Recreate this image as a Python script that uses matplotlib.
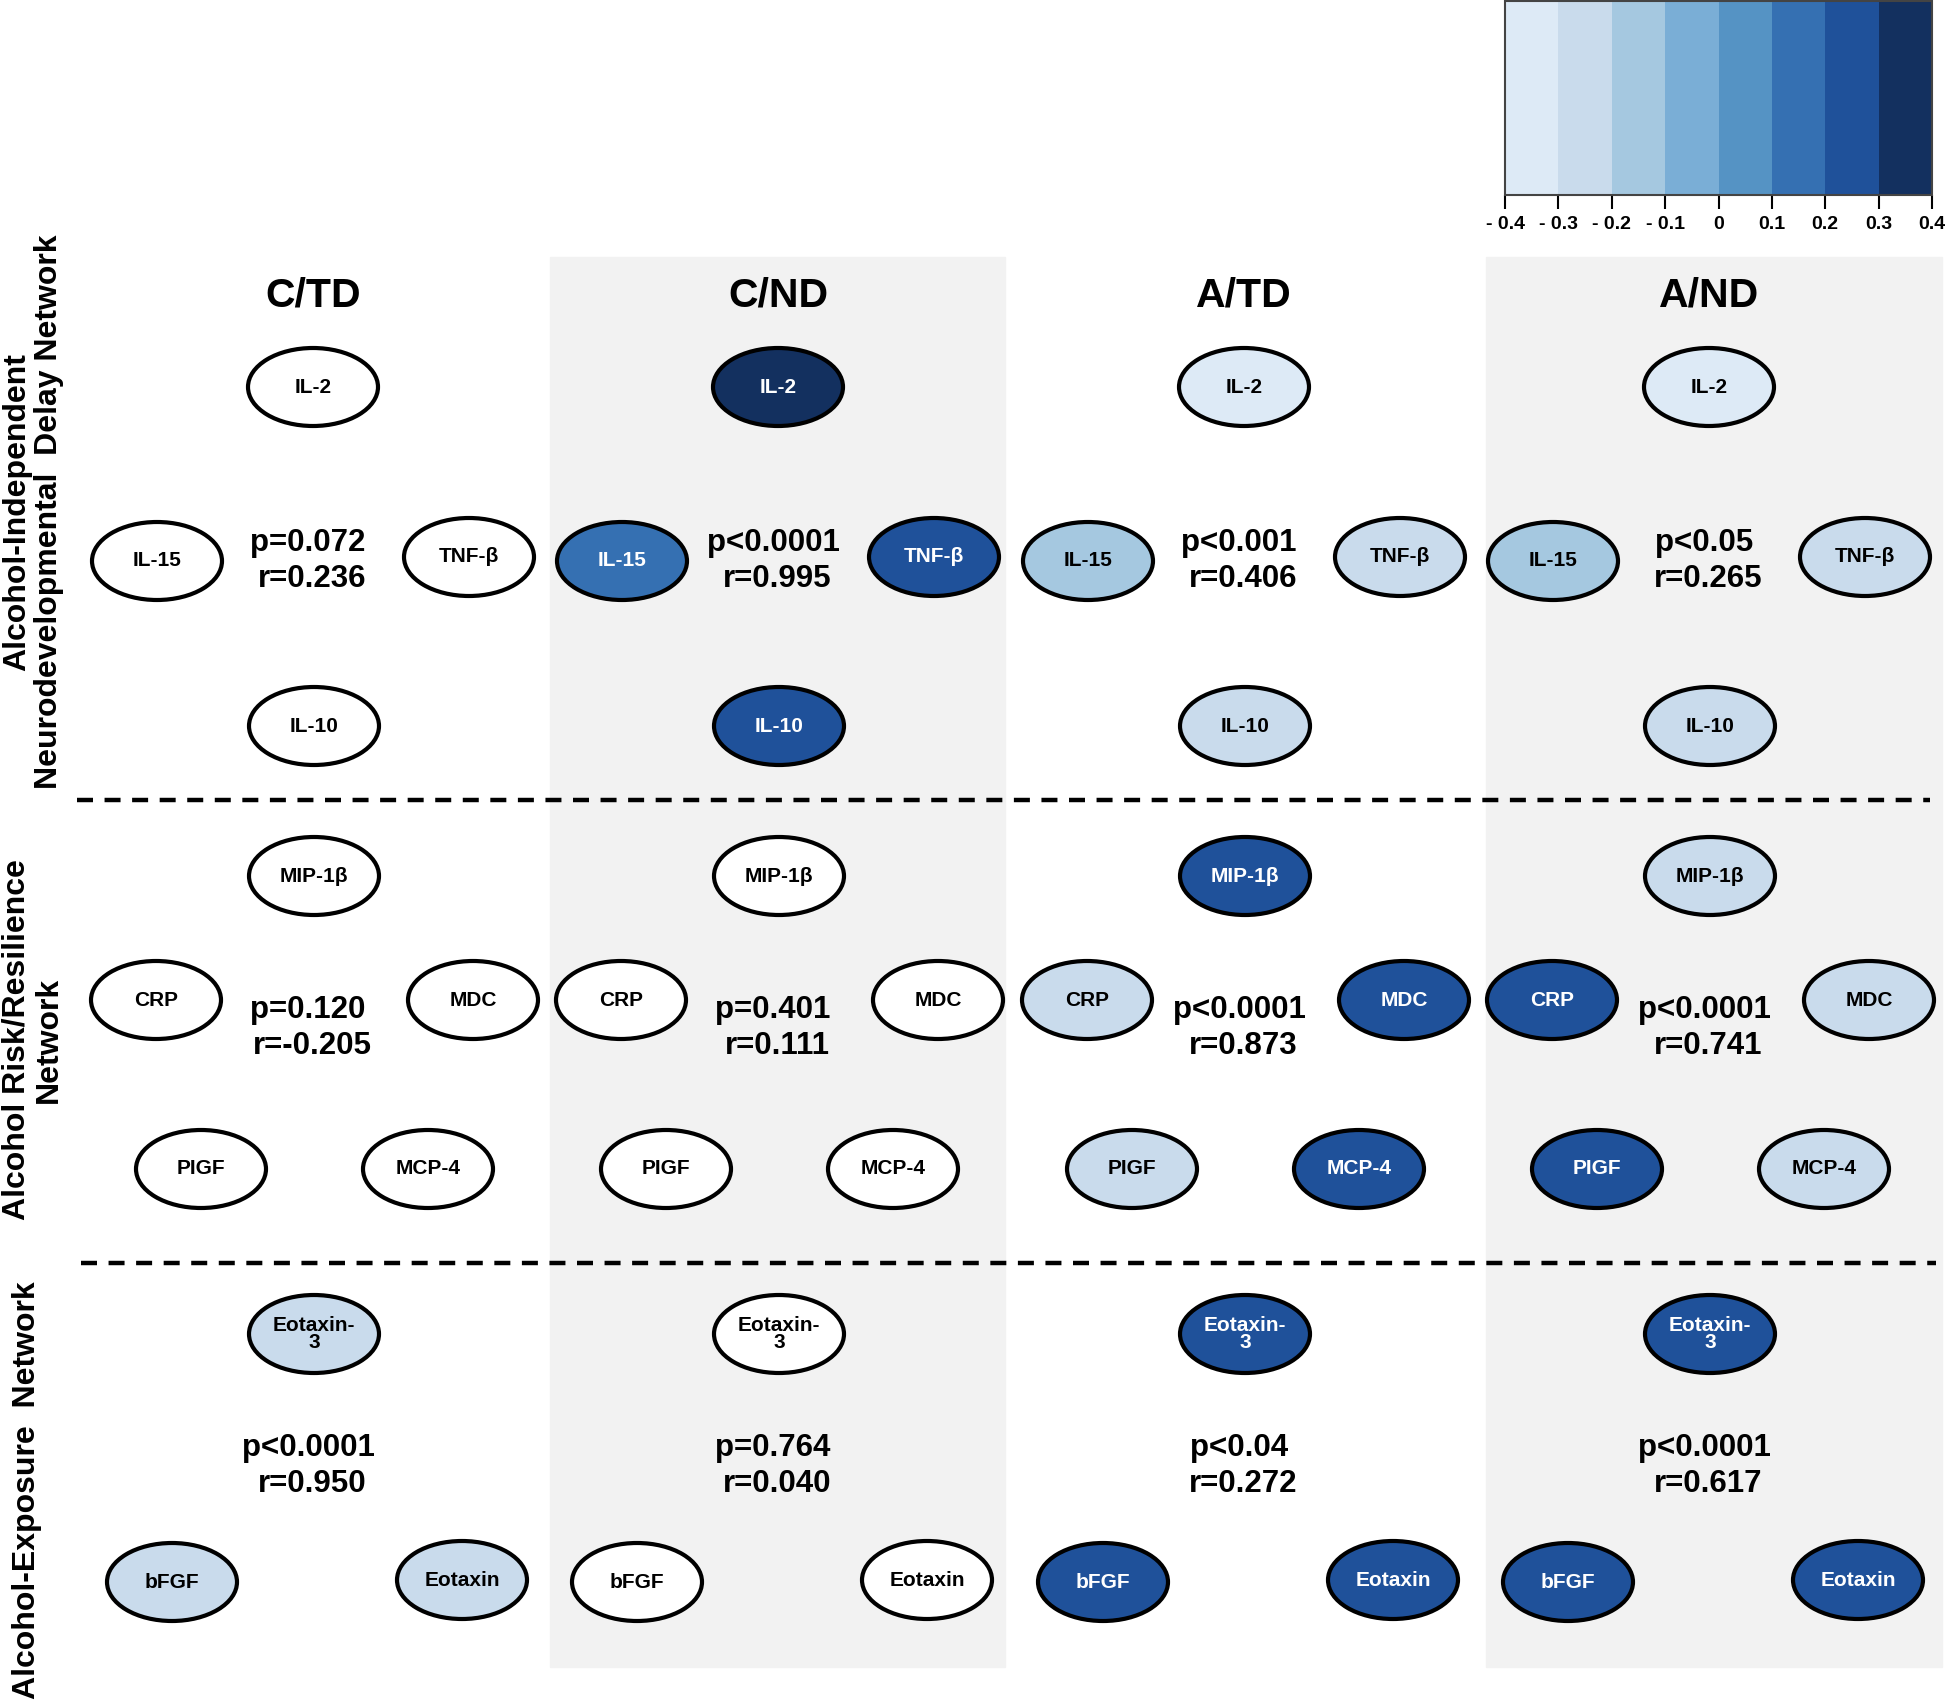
import numpy as np
import matplotlib.pyplot as plt
from matplotlib.patches import Ellipse, Rectangle
from matplotlib.colors import ListedColormap, BoundaryNorm
from matplotlib.cm import ScalarMappable

plt.rcParams['font.family'] = ['Liberation Sans', 'DejaVu Sans']
plt.rcParams['font.weight'] = 'bold'

# ---- data ----
groups = ['C/TD', 'C/ND', 'A/TD', 'A/ND']

net1_nodes = ['IL-2', 'IL-15', 'TNF-β', 'IL-10']
net2_nodes = ['MIP-1β', 'CRP', 'MDC', 'PIGF', 'MCP-4']
net3_nodes = ['Eotaxin-\n3', 'bFGF', 'Eotaxin']

# node shading value on the colour scale (None = not shaded / white)
net1_vals = [[None, None, None, None],
             [0.35, 0.15, 0.25, 0.25],
             [-0.35, -0.15, -0.25, -0.25],
             [-0.35, -0.15, -0.25, -0.25]]
net2_vals = [[None, None, None, None, None],
             [None, None, None, None, None],
             [0.25, -0.25, 0.25, -0.25, 0.25],
             [-0.25, 0.25, -0.25, 0.25, -0.25]]
net3_vals = [[-0.25, -0.25, -0.25],
             [None, None, None],
             [0.25, 0.25, 0.25],
             [0.25, 0.25, 0.25]]

net1_p = ['p=0.072', 'p<0.0001', 'p<0.001', 'p<0.05']
net1_r = ['r=0.236', 'r=0.995', 'r=0.406', 'r=0.265']
net2_p = ['p=0.120', 'p=0.401', 'p<0.0001', 'p<0.0001']
net2_r = ['r=-0.205', 'r=0.111', 'r=0.873', 'r=0.741']
net3_p = ['p<0.0001', 'p=0.764', 'p<0.04', 'p<0.0001']
net3_r = ['r=0.950', 'r=0.040', 'r=0.272', 'r=0.617']

row_labels = ['Alcohol-Independent\nNeurodevelopmental  Delay Network',
              'Alcohol Risk/Resilience\nNetwork',
              'Alcohol-Exposure  Network']

cbar_bounds = [-0.4, -0.3, -0.2, -0.1, 0, 0.1, 0.2, 0.3, 0.4]
cbar_ticklabels = ['- 0.4', '- 0.3', '- 0.2', '- 0.1', '0', '0.1', '0.2', '0.3', '0.4']
cbar_colors = ['#DDEAF6', '#C9DBEC', '#A5C8E0', '#7AAED6',
               '#5593C4', '#3570B2', '#1F519A', '#13305F']

# ---- layout (pixels) ----
W, H = 1946, 1700
col_x = [313, 778, 1244, 1709]
net1_pos = [(0, 387), (-156, 561), (156, 557), (1, 726)]
net2_pos = [(1, 876), (-157, 1000), (160, 1000), (-112, 1169), (115, 1169)]
net3_pos = [(1, 1334), (-141, 1582), (149, 1580)]
stat_y = [(543, 579), (1010, 1046), (1448, 1484)]

cmap = ListedColormap(cbar_colors)
norm = BoundaryNorm(cbar_bounds, cmap.N)

fig = plt.figure(figsize=(W / 100, H / 100), dpi=100)
ax = fig.add_axes([0, 0, 1, 1])
ax.set_xlim(0, W)
ax.set_ylim(H, 0)
ax.axis('off')

# grey background columns
for x0, x1 in [(550, 1005), (1486, 1942)]:
    ax.add_patch(Rectangle((x0, 257), x1 - x0, 1667 - 257, color='#F2F2F2', zorder=0))

# dashed separators
ax.plot([77, 1930], [800, 800], color='black', lw=3.2, dashes=(3.6, 2.6), zorder=1)
ax.plot([81, 1936], [1263, 1263], color='black', lw=3.2, dashes=(3.6, 2.6), zorder=1)

# headers
for g, cx in zip(groups, col_x):
    ax.text(cx, 295, g, ha='center', va='center', fontsize=29.5, fontweight='bold')


def draw_net(names, vals, pos, ps, rs, sy):
    for gi, cx in enumerate(col_x):
        for name, v, (dx, y) in zip(names, vals[gi], pos):
            if v is None:
                fc, tc = 'white', 'black'
            else:
                fc = cmap(norm(v))
                tc = 'white' if v > 0.1 else 'black'
            ax.add_patch(Ellipse((cx + dx, y), 130, 78, facecolor=fc,
                                 edgecolor='black', lw=3.0, zorder=2))
            ax.text(cx + dx, y, name, ha='center', va='center', fontsize=15,
                    fontweight='bold', color=tc, linespacing=0.9, zorder=3)
        ax.text(cx - 5, sy[0], ps[gi], ha='center', va='center', fontsize=22.5, fontweight='bold')
        ax.text(cx - 1, sy[1], rs[gi], ha='center', va='center', fontsize=22.5, fontweight='bold')


draw_net(net1_nodes, net1_vals, net1_pos, net1_p, net1_r, stat_y[0])
draw_net(net2_nodes, net2_vals, net2_pos, net2_p, net2_r, stat_y[1])
draw_net(net3_nodes, net3_vals, net3_pos, net3_p, net3_r, stat_y[2])

# row labels
ax.text(33, 512, row_labels[0], rotation=90, ha='center', va='center',
        fontsize=23, fontweight='bold', multialignment='center', linespacing=1.1)
ax.text(33, 1040, row_labels[1], rotation=90, ha='center', va='center',
        fontsize=23, fontweight='bold', multialignment='center', linespacing=1.1)
ax.text(27, 1490, row_labels[2], rotation=90, ha='center', va='center',
        fontsize=23, fontweight='bold')

# colour scale
cax = fig.add_axes([1505 / W, 1 - 195 / H, 427 / W, 194 / H])
cb = fig.colorbar(ScalarMappable(norm=norm, cmap=cmap), cax=cax,
                  orientation='horizontal', ticks=cbar_bounds)
cb.set_ticklabels(cbar_ticklabels)
cb.outline.set_edgecolor('#444444')
cb.outline.set_linewidth(1.5)
cax.tick_params(length=10, width=1.5, labelsize=14, pad=5)
for lab in cax.get_xticklabels():
    lab.set_fontweight('bold')

fig.savefig('out.png', dpi=100)
